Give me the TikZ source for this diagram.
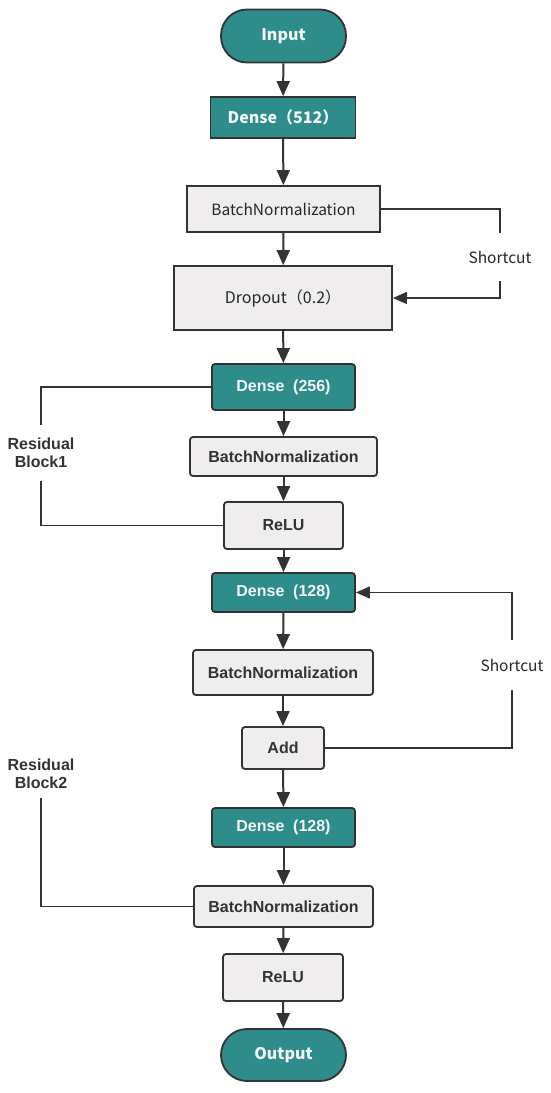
\documentclass[tikz,border=0pt]{standalone}
\usepackage{fontspec}
\setmainfont{Liberation Sans}
\newfontfamily\cjk{Noto Sans CJK SC}
\usetikzlibrary{arrows.meta}
\definecolor{teal1}{HTML}{2E8C8B}
\definecolor{edge}{HTML}{333333}
\definecolor{lightbox}{HTML}{EFEDED}
\definecolor{txtw}{HTML}{F2F6F6}
\tikzset{
  base/.style={draw=edge, line width=1.8pt, inner sep=0pt, font=\fontsize{16}{18}\selectfont},
  tealsq/.style={base, fill=teal1, text=txtw},
  tealrd/.style={base, fill=teal1, text=txtw, rounded corners=3pt, font=\fontsize{16}{18}\selectfont\bfseries},
  pill/.style={base, fill=teal1, text=txtw, rounded corners=26pt},
  greysq/.style={base, fill=lightbox, text=black!85},
  greyrd/.style={base, fill=lightbox, text=edge, rounded corners=3pt, font=\fontsize{16}{18}\selectfont\bfseries},
  flow/.style={draw=edge, line width=2pt, -{Triangle[width=13pt,length=15pt]}},
  side/.style={draw=edge, line width=1.2pt},
  sidearrow/.style={side, -{Triangle[width=12pt,length=14pt]}},
  lbl/.style={inner sep=0pt, text=edge, align=center},
}
\begin{document}
\begin{tikzpicture}[x=1pt,y=-1pt]
\path[use as bounding box, fill=white] (0,0) rectangle (550,1093);
\node[pill, minimum width=125pt, minimum height=53pt, font=\cjk\fontsize{16}{18}\selectfont\bfseries] (in) at (283.5,36) {Input};
\node[tealsq, minimum width=145pt, minimum height=41pt, font=\cjk\fontsize{16}{18}\selectfont\bfseries] (d512) at (283,117.5) {Dense（512）};
\node[greysq, minimum width=193pt, minimum height=46pt, font=\cjk\fontsize{15.5}{18}\selectfont] (bn1) at (283.5,209) {BatchNormalization\hspace{8pt}};
\node[greysq, minimum width=218pt, minimum height=64pt, font=\cjk\fontsize{16}{18}\selectfont] (drop) at (283,298) {Dropout（0.2）};
\node[tealrd, minimum width=143pt, minimum height=46pt] (d256) at (283.5,387) {Dense\hspace{0.55em}(256)};
\node[greyrd, minimum width=187pt, minimum height=39pt] (bn2) at (283.5,456.5) {BatchNormalization};
\node[greyrd, minimum width=119pt, minimum height=47pt] (relu1) at (283.5,525.5) {ReLU};
\node[tealrd, minimum width=143pt, minimum height=39pt] (d128a) at (283.5,592.5) {Dense\hspace{0.55em}(128)};
\node[greyrd, minimum width=180pt, minimum height=45pt] (bn3) at (283,672.5) {BatchNormalization};
\node[greyrd, minimum width=82pt, minimum height=42pt] (add) at (283,748) {Add};
\node[tealrd, minimum width=143pt, minimum height=39pt] (d128b) at (283.5,827.5) {Dense\hspace{0.55em}(128)};
\node[greyrd, minimum width=179pt, minimum height=41pt] (bn4) at (283.5,906.5) {BatchNormalization};
\node[greyrd, minimum width=120pt, minimum height=47pt] (relu2) at (283,977.5) {ReLU};
\node[pill, minimum width=125pt, minimum height=52pt, font=\cjk\fontsize{16}{18}\selectfont\bfseries] (out) at (283.5,1055) {Output};
% main flow
\draw[flow] (in) -- (d512);
\draw[flow] (d512) -- (bn1);
\draw[flow] (bn1) -- (drop);
\draw[flow] (drop) -- (d256);
\draw[flow] (d256) -- (bn2);
\draw[flow] (bn2) -- (relu1);
\draw[flow] (relu1) -- (d128a);
\draw[flow] (d128a) -- (bn3);
\draw[flow] (bn3) -- (add);
\draw[flow] (add) -- (d128b);
\draw[flow] (d128b) -- (bn4);
\draw[flow] (bn4) -- (relu2);
\draw[flow] (relu2) -- (out);
% shortcut 1
\node[lbl, font=\cjk\fontsize{15.5}{18}\selectfont, text=black!85, minimum height=48pt] (sc1) at (500,257) {Shortcut};
\draw[side] (bn1.east) -| (sc1.north);
\draw[sidearrow] (sc1.south) |- (drop.east);
% residual block 1
\node[lbl, font=\fontsize{16}{18}\selectfont\bfseries, minimum height=56pt] (rb1) at (41,453) {Residual\\Block1};
\draw[side] (d256.west) -| (rb1.north);
\draw[side] (rb1.south) |- (relu1.west);
% shortcut 2
\node[lbl, font=\cjk\fontsize{15.5}{18}\selectfont, text=black!85, minimum height=50pt] (sc2) at (512,665) {Shortcut};
\draw[side] (add.east) -| (sc2.south);
\draw[sidearrow] (sc2.north) |- (d128a.east);
% residual block 2
\node[lbl, font=\fontsize{16}{18}\selectfont\bfseries, minimum height=48pt] (rb2) at (41,774) {Residual\\Block2};
\draw[side] (rb2.south) |- (bn4.west);
\end{tikzpicture}
\end{document}
